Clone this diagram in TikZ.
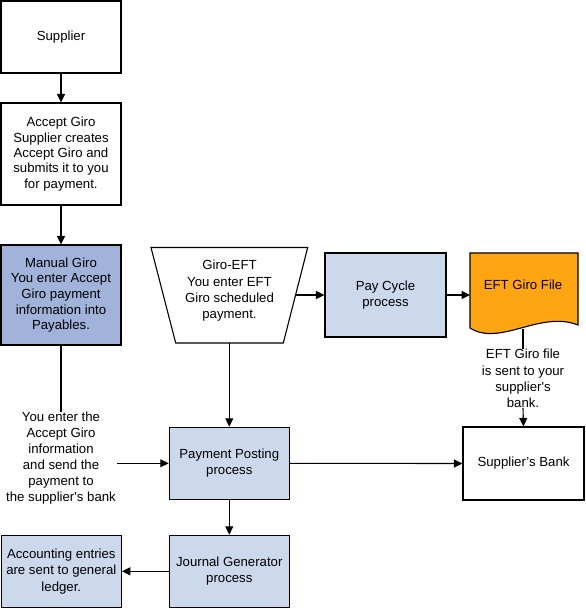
\documentclass[tikz,border=0pt]{standalone}
\usepackage{fontspec}
\setmainfont{Liberation Sans}
\usetikzlibrary{arrows.meta}
\definecolor{darkblue}{RGB}{161,179,218}
\definecolor{lightblue}{RGB}{204,216,235}
\definecolor{orangef}{RGB}{255,165,17}
\begin{document}
\begin{tikzpicture}[x=1pt,y=-1pt,
  txt/.style={font=\fontsize{13.2}{16.3}\selectfont, align=center, inner sep=0pt},
  box/.style={txt, draw, line width=1.1pt, minimum width=120pt, minimum height=#1},
  box/.default=72pt,
  ln/.style={line width=1.1pt},
  arr/.style={line width=1.1pt, -{Triangle[length=8.5pt,width=8pt]}}]
\useasboundingbox (0,0) rectangle (585,609);

\node[box] (sup) at (61,37) {Supplier};
\node[box=102pt, font=\fontsize{13.2}{15.4}\selectfont] (acc) at (61,154) {Accept Giro\\Supplier creates\\Accept Giro and\\submits it to you\\for payment.};
\node[box=100pt, fill=darkblue, font=\fontsize{13.2}{15.6}\selectfont] (man) at (61,295) {Manual Giro\\You enter Accept\\Giro payment\\information into\\Payables.};
\node[txt, font=\fontsize{13.2}{16}\selectfont] (mtxt) at (61,458.5) {You enter the\\Accept Giro\\information\\and send the\\payment to\\the supplier\textquotesingle{}s bank};

% Giro-EFT trapezoid
\draw[ln] (151,247.5) -- (307.7,247.5) -- (283.3,343) -- (175.7,343) -- cycle;
\node[txt] (eft) at (229.5,291) {Giro-EFT\\You enter EFT\\Giro scheduled\\payment.};
\coordinate (eftR) at (295.6,295);
\coordinate (eftB) at (229.3,343);

\node[box=84pt, minimum width=121pt, fill=lightblue] (pc) at (385.5,295) {Pay Cycle\\process};

% EFT Giro File document shape
\draw[ln, fill=orangef] (470,328) -- (470,253) -- (578,253) -- (578,325)
  .. controls (540,310) and (500,347) .. cycle;
\node[txt] (file) at (523,285) {EFT Giro File};
\coordinate (fileL) at (470,295);
\coordinate (fileB) at (523,329);
\node[txt] (etxt) at (523,378.5) {EFT Giro file\\is sent to your\\supplier\textquotesingle{}s\\bank.};

\node[box=73pt, minimum width=121pt] (bank) at (523.5,463.5) {Supplier’s Bank};
\node[box, fill=lightblue] (pp) at (229.3,463.3) {Payment Posting\\process};
\node[box, fill=lightblue] (jg) at (229.3,571.3) {Journal Generator\\process};
\node[box, fill=lightblue] (acct) at (61.3,571.3) {Accounting entries\\are sent to general\\ledger.};

\draw[arr] (sup) -- (acc);
\draw[arr] (acc) -- (man);
\draw[ln] (man.south) -- (mtxt.north);
\draw[arr] (mtxt.east |- pp.west) ++(1,0) -- (pp.west);
\draw[arr] (eftR) -- (pc.west);
\draw[arr] (pc.east) -- (fileL);
\draw[ln] (fileB) -- (etxt.north);
\draw[arr] (etxt.south) -- (bank.north);
\draw[arr] (eftB) -- (pp.north);
\draw[arr] (pp.east) -- (bank.west);
\draw[arr] (pp) -- (jg);
\draw[arr] (jg) -- (acct);
\end{tikzpicture}
\end{document}
